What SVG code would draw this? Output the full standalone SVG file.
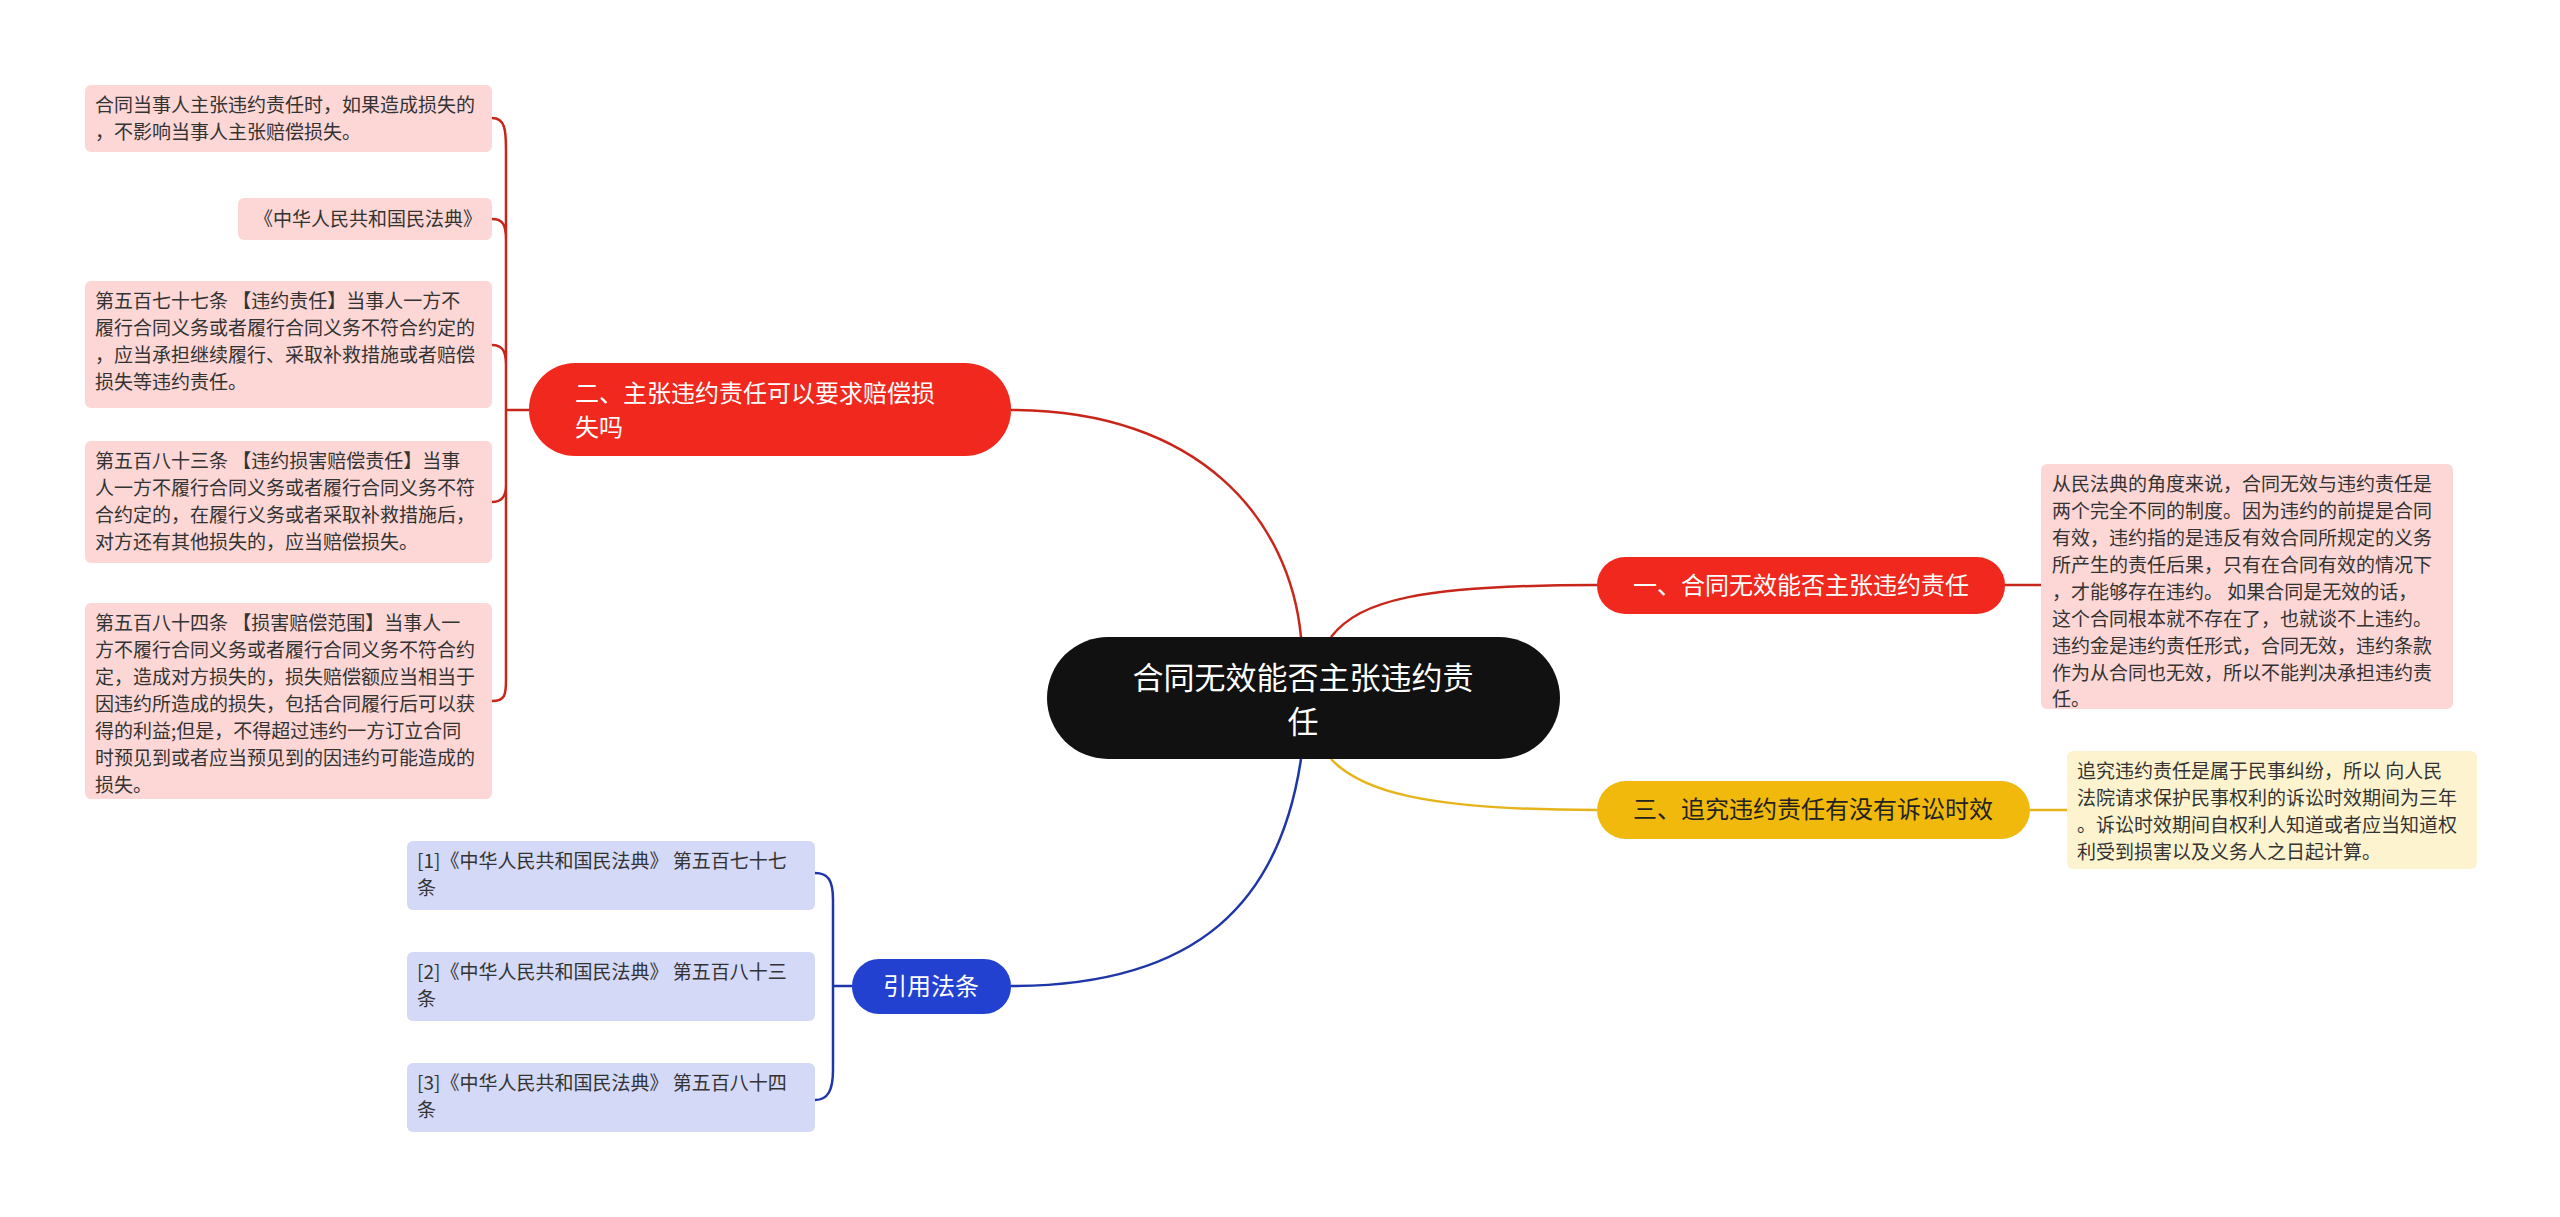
<svg xmlns="http://www.w3.org/2000/svg" width="2560" height="1217" viewBox="0 0 2560 1217">
<style>
text{font-family:"Noto Sans CJK SC","Liberation Sans",sans-serif;}
.d{font-size:19px;fill:#333;}
.b{font-size:24px;fill:#fff;}
.c{fill:none;stroke-width:2.5;}
.r{stroke:#c9261b;}.y{stroke:#e6b41a;}.bl{stroke:#1f36a8;}
.pk{fill:#fcd7d5;}.yl{fill:#fdf3cf;}.bx{fill:#d3d9f7;}
</style>
<rect width="2560" height="1217" fill="#fff"/>
<g id="connectors">
<path class="c r" d="M1301,637 C1290,520 1200,410 1011,410"/>
<path class="c r" d="M1331,637 C1360,600 1420,585 1597,585"/>
<path class="c y" d="M1331,759 C1360,790 1420,810 1597,810"/>
<path class="c bl" d="M1301,759 C1280,900 1200,986 1011,986"/>
<path class="c r" d="M2005,585 L2041,585"/>
<path class="c y" d="M2030,810 L2067,810"/>
<path class="c r" d="M529,410 L506,410 M492,118 C505,118 506,130 506,150 L506,680 C506,695 505,701 492,701 M492,219 C503,219 506,225 506,240 M492,345 C503,345 506,352 506,365 M492,502 C503,502 506,495 506,485"/>
<path class="c bl" d="M852,986 L833,986 M815,873 C828,873 833,880 833,900 L833,1070 C833,1090 828,1100 815,1100"/>
</g>
<g id="center"><rect x="1047" y="637" width="513" height="122" rx="61" fill="#111"/>
<text x="1303" y="689" text-anchor="middle" font-size="31" fill="#fff">合同无效能否主张违约责</text>
<text x="1303" y="733" text-anchor="middle" font-size="31" fill="#fff">任</text></g>
<g id="b1"><rect x="1597" y="557" width="408" height="57" rx="28" fill="#f0281e"/>
<text class="b" x="1801" y="594" text-anchor="middle">一、合同无效能否主张违约责任</text></g>
<g id="d1r"><rect class="pk" x="2041" y="464" width="412" height="245" rx="6"/>
<text class="d"><tspan x="2052" y="491">从民法典的角度来说，合同无效与违约责任是</tspan><tspan x="2052" y="518">两个完全不同的制度。因为违约的前提是合同</tspan><tspan x="2052" y="545">有效，违约指的是违反有效合同所规定的义务</tspan><tspan x="2052" y="572">所产生的责任后果，只有在合同有效的情况下</tspan><tspan x="2052" y="599">，才能够存在违约。 如果合同是无效的话，</tspan><tspan x="2052" y="626">这个合同根本就不存在了，也就谈不上违约。</tspan><tspan x="2052" y="653">违约金是违约责任形式，合同无效，违约条款</tspan><tspan x="2052" y="680">作为从合同也无效，所以不能判决承担违约责</tspan><tspan x="2052" y="706">任。</tspan></text></g>
<g id="b3"><rect x="1597" y="781" width="433" height="58" rx="29" fill="#f0b90b"/>
<text x="1813" y="818" text-anchor="middle" font-size="24" fill="#222">三、追究违约责任有没有诉讼时效</text></g>
<g id="d3r"><rect class="yl" x="2067" y="751" width="410" height="118" rx="6"/>
<text class="d"><tspan x="2077" y="778">追究违约责任是属于民事纠纷，所以 向人民</tspan><tspan x="2077" y="805">法院请求保护民事权利的诉讼时效期间为三年</tspan><tspan x="2077" y="832">。诉讼时效期间自权利人知道或者应当知道权</tspan><tspan x="2077" y="859">利受到损害以及义务人之日起计算。</tspan></text></g>
<g id="b2"><rect x="529" y="363" width="482" height="93" rx="46" fill="#f0281e"/>
<text class="b"><tspan x="575" y="402">二、主张违约责任可以要求赔偿损</tspan><tspan x="575" y="436">失吗</tspan></text></g>
<g id="l1"><rect class="pk" x="85" y="85" width="407" height="67" rx="6"/>
<text class="d"><tspan x="95" y="112">合同当事人主张违约责任时，如果造成损失的</tspan><tspan x="95" y="139">，不影响当事人主张赔偿损失。</tspan></text></g>
<g id="l2"><rect class="pk" x="238" y="198" width="254" height="42" rx="6"/>
<text class="d" x="482" y="226" text-anchor="end">《中华人民共和国民法典》</text></g>
<g id="l3"><rect class="pk" x="85" y="281" width="407" height="127" rx="6"/>
<text class="d"><tspan x="95" y="308">第五百七十七条 【违约责任】当事人一方不</tspan><tspan x="95" y="335">履行合同义务或者履行合同义务不符合约定的</tspan><tspan x="95" y="362">，应当承担继续履行、采取补救措施或者赔偿</tspan><tspan x="95" y="389">损失等违约责任。</tspan></text></g>
<g id="l4"><rect class="pk" x="85" y="441" width="407" height="122" rx="6"/>
<text class="d"><tspan x="95" y="468">第五百八十三条 【违约损害赔偿责任】当事</tspan><tspan x="95" y="495">人一方不履行合同义务或者履行合同义务不符</tspan><tspan x="95" y="522">合约定的，在履行义务或者采取补救措施后，</tspan><tspan x="95" y="549">对方还有其他损失的，应当赔偿损失。</tspan></text></g>
<g id="l5"><rect class="pk" x="85" y="603" width="407" height="196" rx="6"/>
<text class="d"><tspan x="95" y="630">第五百八十四条 【损害赔偿范围】当事人一</tspan><tspan x="95" y="657">方不履行合同义务或者履行合同义务不符合约</tspan><tspan x="95" y="684">定，造成对方损失的，损失赔偿额应当相当于</tspan><tspan x="95" y="711">因违约所造成的损失，包括合同履行后可以获</tspan><tspan x="95" y="738">得的利益;但是，不得超过违约一方订立合同</tspan><tspan x="95" y="765">时预见到或者应当预见到的因违约可能造成的</tspan><tspan x="95" y="792">损失。</tspan></text></g>
<g id="b4"><rect x="852" y="959" width="159" height="55" rx="27" fill="#2241d1"/>
<text class="b" x="931" y="995" text-anchor="middle">引用法条</text></g>
<g id="r1"><rect class="bx" x="407" y="841" width="408" height="69" rx="6"/>
<text class="d"><tspan x="417" y="868">[1]《中华人民共和国民法典》 第五百七十七</tspan><tspan x="417" y="895">条</tspan></text></g>
<g id="r2"><rect class="bx" x="407" y="952" width="408" height="69" rx="6"/>
<text class="d"><tspan x="417" y="979">[2]《中华人民共和国民法典》 第五百八十三</tspan><tspan x="417" y="1006">条</tspan></text></g>
<g id="r3"><rect class="bx" x="407" y="1063" width="408" height="69" rx="6"/>
<text class="d"><tspan x="417" y="1090">[3]《中华人民共和国民法典》 第五百八十四</tspan><tspan x="417" y="1117">条</tspan></text></g>
</svg>
